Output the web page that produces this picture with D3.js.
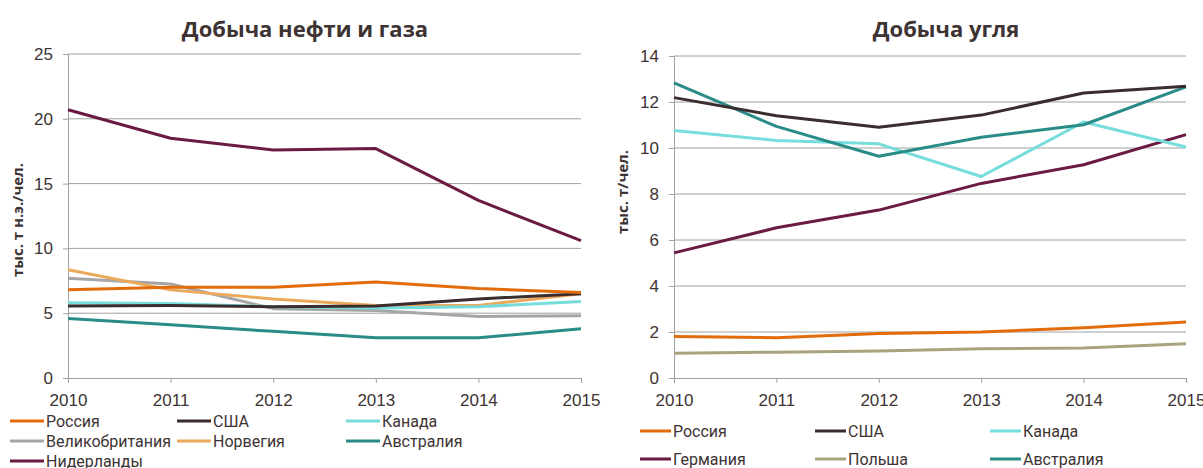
<!DOCTYPE html>
<html>
<head>
<meta charset="utf-8">
<script src="https://cdn.jsdelivr.net/npm/d3@7"></script>
<style>
  body { margin: 0; background: #fff; }
  svg { display: block; font-family: "Open Sans", sans-serif; }
  .legend text { font-family: Roboto, sans-serif; }
</style>
</head>
<body>
<svg id="chart" width="1203" height="468"></svg>
<script>
const years = [2010, 2011, 2012, 2013, 2014, 2015];

// Добыча нефти и газа, тыс. т н.э./чел.
const oilRussia = [6.8, 7.0, 7.0, 7.4, 6.9, 6.6];
const oilUSA = [5.55, 5.6, 5.5, 5.55, 6.1, 6.5];
const oilCanada = [5.8, 5.75, 5.5, 5.4, 5.5, 5.9];
const oilUK = [7.7, 7.25, 5.35, 5.2, 4.75, 4.8];
const oilNorway = [8.35, 6.8, 6.1, 5.6, 5.6, 6.5];
const oilAustralia = [4.6, 4.1, 3.6, 3.1, 3.1, 3.8];
const oilNetherlands = [20.7, 18.5, 17.6, 17.7, 13.7, 10.6];
const oilTicks = [0, 5, 10, 15, 20, 25];

// Добыча угля, т/чел.
const coalRussia = [1.8, 1.75, 1.93, 2.0, 2.19, 2.43];
const coalUSA = [12.19, 11.4, 10.9, 11.43, 12.39, 12.69];
const coalCanada = [10.76, 10.33, 10.18, 8.76, 11.13, 10.04];
const coalGermany = [5.44, 6.53, 7.3, 8.46, 9.27, 10.58];
const coalPoland = [1.08, 1.12, 1.17, 1.27, 1.3, 1.49];
const coalAustralia = [12.83, 10.94, 9.64, 10.47, 11.01, 12.66];
const coalTicks = [0, 2, 4, 6, 8, 10, 12, 14];

const colors = {
    russia: '#e36c0a',
    usa: '#3b2c2e',
    canada: '#77dcdc',
    uk: '#a6a6a6',
    norway: '#eba95c',
    australia: '#2a8c88',
    maroon: '#6a1a43',
    poland: '#a9a37c'
};

const textColor = '#3d3333';
const svg = d3.select('#chart');

function drawChart(cfg) {
    const g = svg.append('g');

    const x = d3.scalePoint()
        .domain(years)
        .range([cfg.left, cfg.right]);

    const y = d3.scaleLinear()
        .domain([0, d3.max(cfg.ticks)])
        .range([cfg.bottom, cfg.top]);

    // grid
    g.append('g')
        .selectAll('line')
        .data(cfg.ticks.slice(1))
        .enter().append('line')
        .attr('x1', cfg.left)
        .attr('x2', cfg.right)
        .attr('y1', d => y(d))
        .attr('y2', d => y(d))
        .attr('stroke', '#a0a0a0')
        .attr('stroke-width', 1);

    // y axis
    const yAxis = d3.axisLeft(y)
        .tickValues(cfg.ticks)
        .tickSize(5)
        .tickPadding(10);
    const ya = g.append('g')
        .attr('transform', `translate(${cfg.left},0)`)
        .call(yAxis);
    ya.select('.domain').attr('stroke', '#a0a0a0');
    ya.selectAll('.tick line').attr('stroke', '#a0a0a0');
    ya.selectAll('text')
        .attr('fill', textColor)
        .style('font-size', '17px');

    // x axis
    const xAxis = d3.axisBottom(x)
        .tickSize(5)
        .tickPadding(11);
    const xa = g.append('g')
        .attr('transform', `translate(0,${cfg.bottom})`)
        .call(xAxis);
    xa.select('.domain').attr('stroke', '#a0a0a0');
    xa.selectAll('.tick line').attr('stroke', '#a0a0a0');
    xa.selectAll('text')
        .attr('fill', textColor)
        .style('font-size', '17px');

    // title
    g.append('text')
        .attr('x', cfg.titleX)
        .attr('y', 37)
        .attr('text-anchor', 'middle')
        .attr('fill', textColor)
        .style('font-size', '22px')
        .style('font-weight', 'bold')
        .text(cfg.title);

    // y label
    g.append('text')
        .attr('transform', `translate(${cfg.yLabelX},${cfg.yLabelY}) rotate(-90)`)
        .attr('text-anchor', 'middle')
        .attr('fill', textColor)
        .style('font-size', '15px')
        .style('font-weight', 'bold')
        .text(cfg.yLabel);

    const line = d3.line()
        .x((d, i) => x(years[i]))
        .y(d => y(d));

    g.append('g')
        .selectAll('path')
        .data(cfg.series)
        .enter().append('path')
        .attr('d', d => line(d.values))
        .attr('fill', 'none')
        .attr('stroke', d => d.color)
        .attr('stroke-width', 3)
        .attr('stroke-linejoin', 'round');

    // legend
    const leg = g.append('g')
        .attr('class', 'legend')
        .selectAll('g')
        .data(cfg.series.slice().sort((a, b) => a.order - b.order))
        .enter().append('g')
        .attr('transform', d => `translate(${cfg.legCols[d.order % 3]},${cfg.legRows[Math.floor(d.order / 3)]})`);
    leg.append('line')
        .attr('x1', 0)
        .attr('x2', cfg.legLine)
        .attr('stroke', d => d.color)
        .attr('stroke-width', 3);
    leg.append('text')
        .attr('x', cfg.legLine + 2)
        .attr('dy', '0.35em')
        .attr('fill', textColor)
        .style('font-size', '16px')
        .text(d => d.name);
}

drawChart({
    title: 'Добыча нефти и газа',
    titleX: 305,
    yLabel: 'тыс. т н.э./чел.',
    yLabelX: 23, yLabelY: 220,
    left: 68, right: 581, top: 54, bottom: 378,
    ticks: oilTicks,
    legCols: [10, 177, 346], legRows: [421, 441, 461], legLine: 34,
    series: [
        { name: 'Великобритания', values: oilUK, color: colors.uk, order: 3 },
        { name: 'Норвегия', values: oilNorway, color: colors.norway, order: 4 },
        { name: 'Канада', values: oilCanada, color: colors.canada, order: 2 },
        { name: 'США', values: oilUSA, color: colors.usa, order: 1 },
        { name: 'Россия', values: oilRussia, color: colors.russia, order: 0 },
        { name: 'Австралия', values: oilAustralia, color: colors.australia, order: 5 },
        { name: 'Нидерланды', values: oilNetherlands, color: colors.maroon, order: 6 }
    ]
});

drawChart({
    title: 'Добыча угля',
    titleX: 946,
    yLabel: 'тыс. т/чел.',
    yLabelX: 628, yLabelY: 192,
    left: 674, right: 1186, top: 56, bottom: 378,
    ticks: coalTicks,
    legCols: [640, 815, 990], legRows: [431, 459], legLine: 31,
    series: [
        { name: 'Польша', values: coalPoland, color: colors.poland, order: 4 },
        { name: 'Россия', values: coalRussia, color: colors.russia, order: 0 },
        { name: 'Германия', values: coalGermany, color: colors.maroon, order: 3 },
        { name: 'Канада', values: coalCanada, color: colors.canada, order: 2 },
        { name: 'Австралия', values: coalAustralia, color: colors.australia, order: 5 },
        { name: 'США', values: coalUSA, color: colors.usa, order: 1 }
    ]
});
</script>
</body>
</html>
